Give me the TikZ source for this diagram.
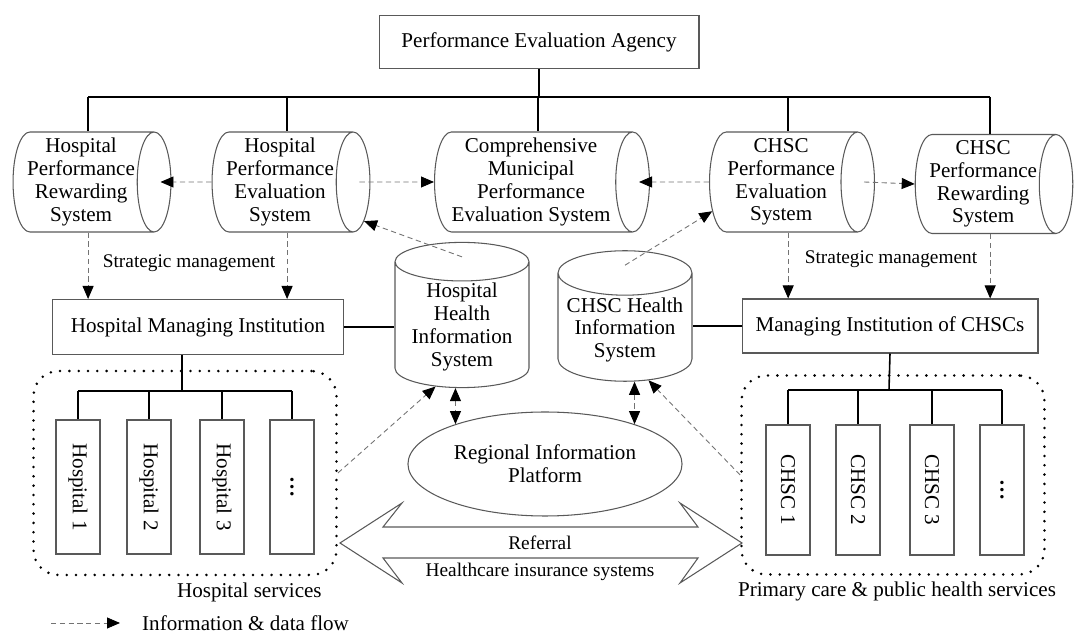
\documentclass[tikz,border=0pt]{standalone}
\usepackage{fontspec}
\setmainfont{Liberation Serif}
\usepackage{graphicx}
\usetikzlibrary{arrows.meta,shapes.geometric,calc}

\tikzset{
  every node/.style={font=\fontsize{12}{13}\selectfont},
  box/.style={draw=black!65, line width=0.6pt, rectangle, inner sep=2pt},
  drum/.style={draw=black!65, line width=0.6pt, cylinder, aspect=0.37, align=center, inner sep=1pt, anchor=shape center},
  unit/.style={box, minimum width=0.88cm},
  group/.style={draw, line width=1.6pt, line cap=round, dash pattern=on 0pt off 5.3pt, rounded corners=0.5cm},
  link/.style={line width=0.9pt},
  dataflow/.style={draw=black!55, line width=0.5pt, dash pattern=on 3pt off 2pt,
    -{Triangle[length=0.26cm,width=0.22cm,black]}},
  twoway/.style={dataflow, {Triangle[length=0.26cm,width=0.22cm,black]}-{Triangle[length=0.26cm,width=0.22cm,black]}},
  small/.style={font=\fontsize{11}{13}\selectfont},
}

\begin{document}
\begin{tikzpicture}[x=0.02cm,y=-0.02cm]
\useasboundingbox (0,0) rectangle (1076,634);

\node [box, minimum width=6.4cm, minimum height=1.06cm] (agency) at (539,42) {Performance Evaluation Agency};

% evaluation and rewarding systems (width = diameter, height = length)
\node [drum, minimum width=2cm, minimum height=2.84cm] (hprs) at (92,182) {Hospital\\Performance\\Rewarding\\System};
\node [drum, minimum width=2cm, minimum height=2.96cm] (hpes) at (291,182) {Hospital\\Performance\\Evaluation\\System};
\node [drum, minimum width=2cm, minimum height=4.3cm] (cmpes) at (542,182) {Comprehensive\\Municipal\\Performance\\Evaluation System};
\node [drum, minimum width=2cm, minimum height=3.3cm] (cpes) at (792,182) {CHSC\\Performance\\Evaluation\\System};
\node [drum, minimum width=1.98cm, minimum height=2.7cm] (cprs) at (994,184) {CHSC\\Performance\\Rewarding\\System};

\coordinate (bus) at (539,97);
\draw [link] (agency) -- (bus);
\draw [link] ([xshift=0.14cm]hprs.north |- bus) -- ([xshift=0.14cm]cprs.north |- bus);
\foreach \s in {hprs,hpes,cmpes,cpes,cprs}
  \draw [link] ([xshift=0.14cm]\s.north |- bus) -- ([xshift=0.14cm]\s.north);

\draw [dataflow] (hpes.west) -- ($(hprs.east)+(-11,0)$);
\draw [dataflow] ($(hpes.east)+(-11,0)$) -- (cmpes.west);
\draw [dataflow] (cpes.west) -- ($(cmpes.east)+(-11,0)$);
\draw [dataflow] ($(cpes.east)+(-11,0)$) -- (cprs.west);

% managing institutions
\node [box, minimum width=5.82cm, minimum height=1.1cm] (hmi) at (198,327) {Hospital Managing Institution};
\node [box, minimum width=5.92cm, minimum height=1.08cm] (cmi) at (890,326) {Managing Institution of CHSCs};

\foreach \s/\m in {hprs/hmi,hpes/hmi,cpes/cmi,cprs/cmi}
  \draw [dataflow] ([xshift=0.14cm]\s.south) -- ([xshift=0.14cm]\s.south |- \m.north);
\node [small] (hstrat) at (189,263) {Strategic management};
\node [small] (cstrat) at (891,259) {Strategic management};

% health information systems
\node [drum, shape border rotate=90, minimum width=2.68cm, minimum height=2.0cm] (hhis) at (462,315) {Hospital\\Health\\Information\\System};
\node [drum, shape border rotate=90, minimum width=2.68cm, minimum height=2.0cm] (chis) at (625,316) {CHSC Health\\Information\\System};
\node [ellipse, draw=black!65, line width=0.6pt, minimum width=4.42cm, minimum height=2.08cm, align=center] (rip) at (545,464) {Regional Information\\Platform};

\draw [link] (hmi.east) -- (hmi.east -| hhis.west);
\draw [link] (cmi.west) -- (cmi.west -| chis.east);
\draw [dataflow] ($(hhis.north)+(0,15)$) -- (hpes.-25);
\draw [dataflow] ($(chis.north)+(0,15)$) -- (cpes.203);
\draw [twoway] (rip.156 |- hhis.south) -- (rip.156);
\draw [twoway] (rip.24 |- chis.south) -- (rip.24);

% hospitals
\node [group, minimum width=6.06cm, minimum height=4.08cm] (hgrp) at (185,473) {};
\node [unit, minimum height=2.68cm] (h1) at (78,487) {\rotatebox{-90}{Hospital 1}};
\node [unit, minimum height=2.68cm] (h2) at (149,487) {\rotatebox{-90}{Hospital 2}};
\node [unit, minimum height=2.68cm] (h3) at (222,487) {\rotatebox{-90}{Hospital 3}};
\node [unit, minimum height=2.68cm] (h4) at (292,487) {\rotatebox{-90}{\textbf{\dots}}};
\coordinate (hbus) at (182,391);
\draw [link] (hbus |- hmi.south) -- (hbus);
\draw [link] (h1.north |- hbus) -- (h4.north |- hbus);
\foreach \h in {h1,h2,h3,h4}
  \draw [link] (\h.north |- hbus) -- (\h.north);
\node [anchor=north east] (hlab) at ([xshift=-0.2cm]hgrp.south east) {Hospital services};
\draw [dataflow] (hgrp.east) -- (hhis.246);

% community health service centres
\node [group, minimum width=6.06cm, minimum height=3.98cm] (cgrp) at (893,475) {};
\node [unit, minimum height=2.6cm] (c1) at (788,490) {\rotatebox{-90}{CHSC 1}};
\node [unit, minimum height=2.6cm] (c2) at (858,490) {\rotatebox{-90}{CHSC 2}};
\node [unit, minimum height=2.6cm] (c3) at (932,490) {\rotatebox{-90}{CHSC 3}};
\node [unit, minimum height=2.6cm] (c4) at (1002,490) {\rotatebox{-90}{\textbf{\dots}}};
\coordinate (cbus) at (889,390);
\draw [link] (cmi.south) -- (cbus);
\draw [link] (c1.north |- cbus) -- (c4.north |- cbus);
\foreach \c in {c1,c2,c3,c4}
  \draw [link] (\c.north |- cbus) -- (\c.north);
\node [anchor=north] (clab) at ([xshift=0.08cm]cgrp.south) {Primary care \& public health services};
\draw [dataflow] (cgrp.west) -- (chis.295);

% referral arrow between the two groups
\draw [draw=black!65, line width=0.6pt]
  (340,543) -- (402,503) -- (383,527) -- (698,527) -- (680,503) -- (742,543)
  -- (680,583) -- (698,558) -- (383,558) -- (402,583) -- cycle;
\node [small] (referral) at (540,543) {Referral};
\node [small] (insurance) at (540,572) {Healthcare insurance systems};

% legend
\coordinate (legA) at (51,623);
\coordinate (legB) at (120,623);
\draw [dataflow] (legA) -- (legB);
\node [anchor=west] (legtext) at (136,623) {Information \& data flow};

\end{tikzpicture}
\end{document}
